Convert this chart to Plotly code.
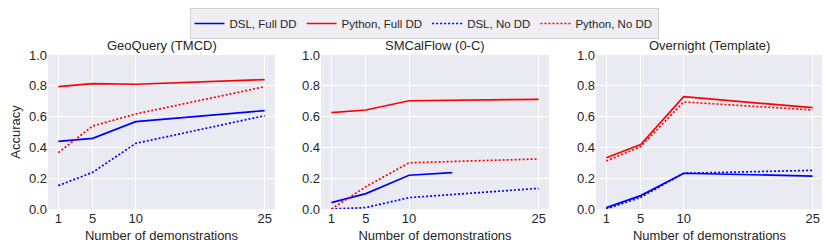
import plotly.graph_objects as go
from plotly.subplots import make_subplots

# page body has an 8px margin, so the figure is laid out 8px smaller
W, H = 822, 242

titles = ["GeoQuery (TMCD)", "SMCalFlow (0-C)", "Overnight (Template)"]
x_ticks = [1, 5, 10, 25]

# GeoQuery
geo_x = [1, 5, 10, 25]
geo_dsl_full = [0.439, 0.459, 0.567, 0.639]
geo_py_full = [0.794, 0.814, 0.810, 0.840]
geo_dsl_no = [0.152, 0.238, 0.426, 0.606]
geo_py_no = [0.366, 0.539, 0.617, 0.794]

# SMCalFlow
smc_x = [1, 5, 10, 25]
smc_dsl_full_x = [1, 5, 10, 15]
smc_dsl_full = [0.041, 0.100, 0.219, 0.236]
smc_py_full = [0.626, 0.643, 0.703, 0.712]
smc_dsl_no = [0.0, 0.009, 0.074, 0.134]
smc_py_no = [0.0, 0.145, 0.300, 0.325]

# Overnight
ovn_x = [1, 5, 10, 25]
ovn_dsl_full = [0.009, 0.087, 0.232, 0.214]
ovn_py_full = [0.333, 0.418, 0.729, 0.658]
ovn_dsl_no = [0.0, 0.076, 0.232, 0.251]
ovn_py_no = [0.312, 0.405, 0.695, 0.643]

series_names = ["DSL, Full DD", "Python, Full DD", "DSL, No DD", "Python, No DD"]
colors = ["#0000FF", "#FF0000", "#0000FF", "#FF0000"]
dashes = ["solid", "solid", "2px,2px", "2px,2px"]

panels = [
    [(geo_x, geo_dsl_full), (geo_x, geo_py_full), (geo_x, geo_dsl_no), (geo_x, geo_py_no)],
    [(smc_dsl_full_x, smc_dsl_full), (smc_x, smc_py_full), (smc_x, smc_dsl_no), (smc_x, smc_py_no)],
    [(ovn_x, ovn_dsl_full), (ovn_x, ovn_py_full), (ovn_x, ovn_dsl_no), (ovn_x, ovn_py_no)],
]

fig = make_subplots(rows=1, cols=3)

for pi, panel in enumerate(panels):
    for si, (xs, ys) in enumerate(panel):
        fig.add_trace(
            go.Scatter(
                x=xs, y=ys, mode="lines", name=series_names[si],
                legendgroup=series_names[si], showlegend=(pi == 0),
                line=dict(color=colors[si], dash=dashes[si], width=1.7),
            ),
            row=1, col=pi + 1,
        )

FONT = "Liberation Sans, Arial, sans-serif"
TXT = "#262626"
FS = 13

# plot area in figure pixels
ML, MR, MT, MB = 40, 7, 47, 41
PW = W - ML - MR
PH = H - MT - MB
x_px = [(40, 267), (313, 541), (588, 815)]

for i, (l, r) in enumerate(x_px):
    xa = "xaxis" if i == 0 else f"xaxis{i+1}"
    ya = "yaxis" if i == 0 else f"yaxis{i+1}"
    fig.layout[xa].update(
        domain=[(l - ML) / PW, (r - ML) / PW], range=[-0.2, 26.2], tickvals=x_ticks,
        showgrid=True, gridcolor="white", gridwidth=1, zeroline=False, automargin=False,
        showline=False, ticks="", tickfont=dict(size=FS, color=TXT, family=FONT),
        title=dict(text="Number of demonstrations", font=dict(size=FS, color=TXT, family=FONT), standoff=5),
    )
    fig.layout[ya].update(
        domain=[0, 1], range=[0, 1], tickvals=[0, 0.2, 0.4, 0.6, 0.8, 1.0], tickformat=".1f",
        showgrid=True, gridcolor="white", gridwidth=1, zeroline=False, automargin=False,
        showline=False, ticks="", tickfont=dict(size=FS, color=TXT, family=FONT),
    )
    fig.add_annotation(
        text=titles[i], x=((l + r) / 2 - ML) / PW, y=1 + (MT - 37) / PH,
        xref="paper", yref="paper",
        xanchor="center", yanchor="middle", showarrow=False,
        font=dict(size=FS, color=TXT, family=FONT),
    )

fig.layout["yaxis"].title = dict(text="Accuracy", font=dict(size=FS, color=TXT, family=FONT), standoff=8)

fig.update_layout(
    width=W, height=H,
    margin=dict(l=ML, r=MR, t=MT, b=MB, autoexpand=False),
    paper_bgcolor="white", plot_bgcolor="#EAEAF2",
    font=dict(family=FONT, color=TXT),
    legend=dict(
        orientation="h", x=((175 + 657) / 2 - ML) / PW, xanchor="center",
        y=1 + (MT - 0) / PH, yanchor="top",
        bgcolor="#EEEEF4", bordercolor="#D0D0D0", borderwidth=1,
        font=dict(size=11.5, color=TXT, family=FONT),
        itemwidth=30, tracegroupgap=0,
    ),
)

fig.write_html("out.html")
